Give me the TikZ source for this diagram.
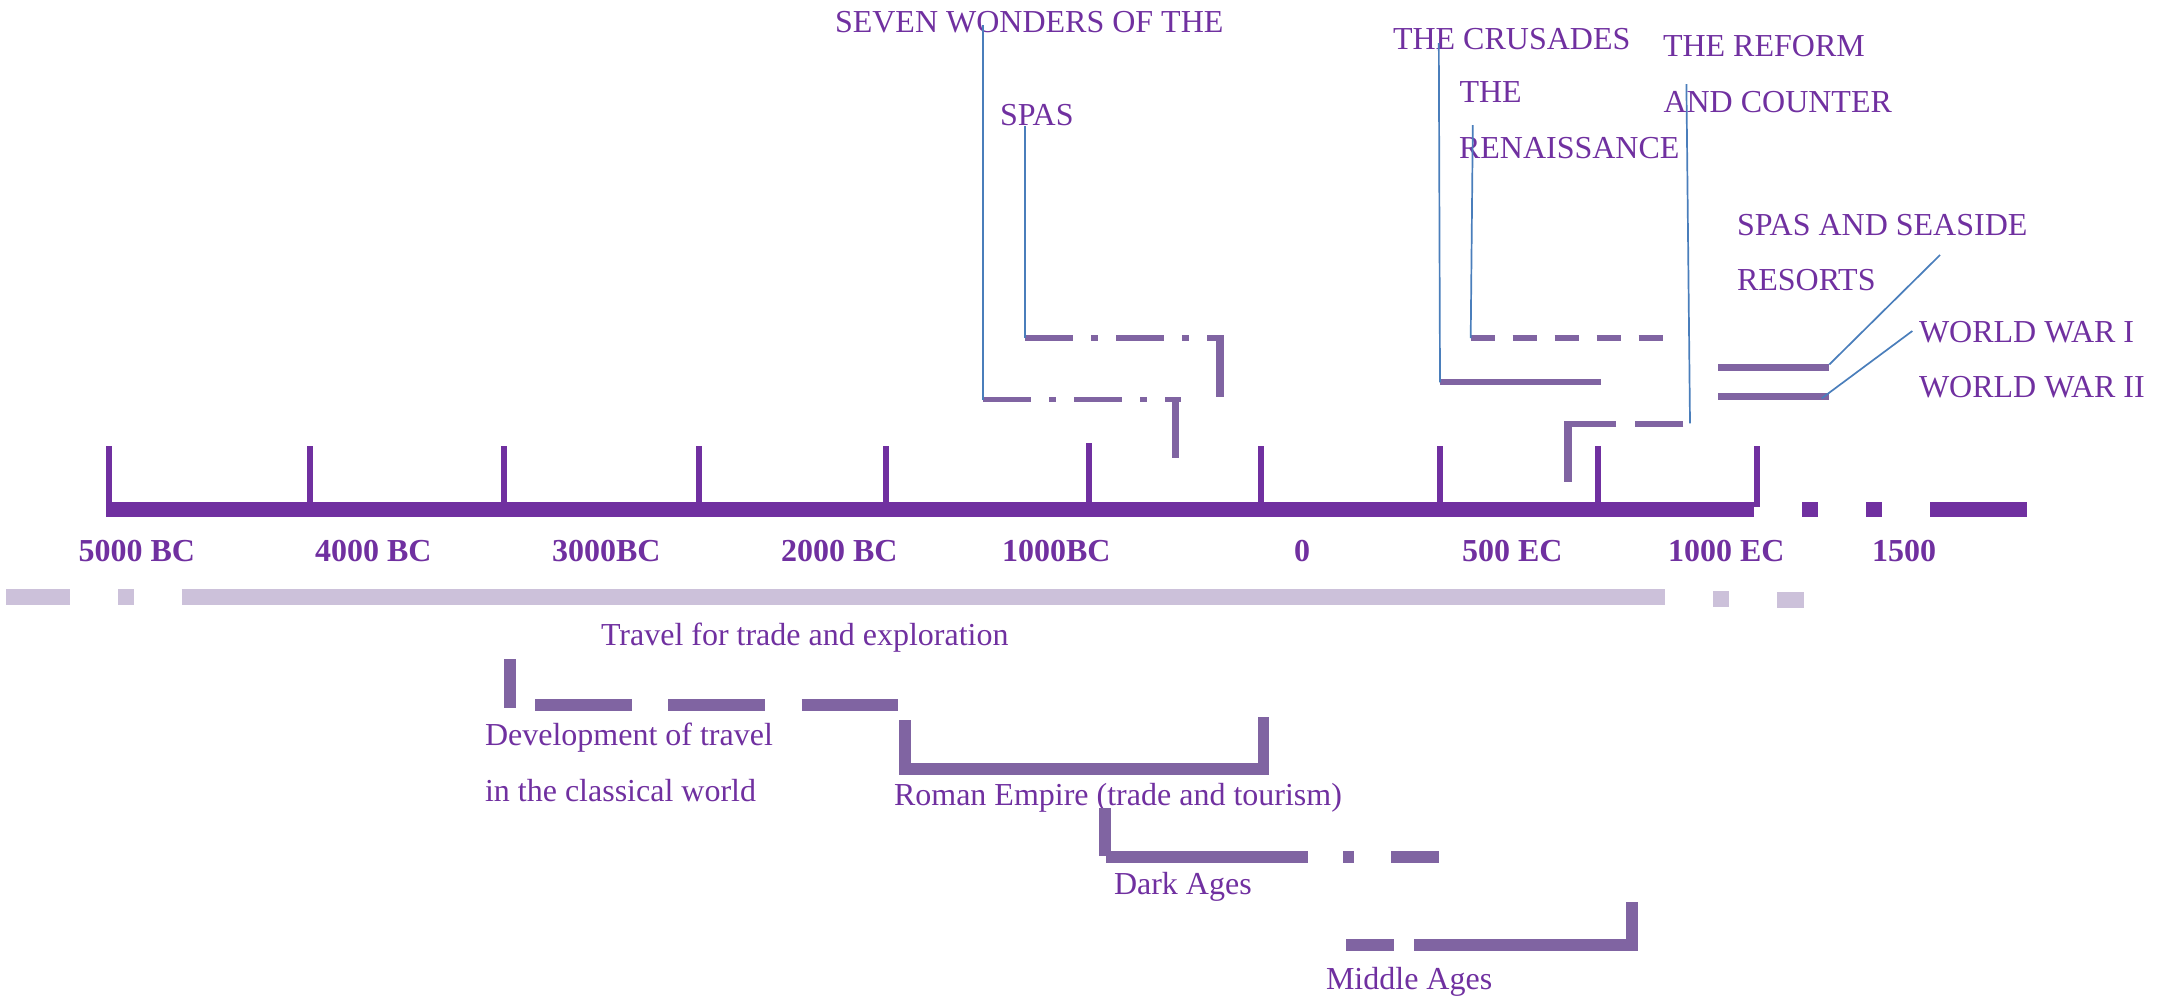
\documentclass[tikz,border=0pt]{standalone}
\usepackage{fontspec}
\setmainfont{Liberation Serif}
\definecolor{txtpurple}{HTML}{7030A0}
\definecolor{axispurple}{HTML}{7030A0}
\definecolor{barpurple}{HTML}{8064A2}
\definecolor{lavender}{HTML}{CCC1DA}
\definecolor{leaderblue}{HTML}{4A7EBB}
\begin{document}
\begin{tikzpicture}[x=0.5pt,y=-0.5pt,
  lbl/.style={anchor=base west,inner sep=0pt,outer sep=0pt,text=txtpurple,font=\fontsize{16}{19}\selectfont},
  yearlbl/.style={lbl,font=\fontsize{16}{19}\selectfont\bfseries},
  axisbar/.style={draw=axispurple,line width=7.8pt,line cap=butt},
  tick/.style={draw=axispurple,line width=3pt,line cap=butt},
  lavbar/.style={draw=lavender,line width=8pt,line cap=butt},
  ubar/.style={draw=barpurple,line width=2.85pt,line cap=butt,line join=miter},
  uvert/.style={draw=barpurple,line width=3.9pt,line cap=butt},
  lbar/.style={draw=barpurple,line width=5.85pt,line cap=butt,line join=miter},
  leader/.style={draw=leaderblue,line width=0.85pt},
  dashdotpat/.style={dash pattern=on 24pt off 9pt on 3.5pt off 9pt}
]
\useasboundingbox (0,0) rectangle (2167,998);

% ---------- main axis ----------
\coordinate (axL) at (106,509.5);
\coordinate (axR) at (2027,509.5);
\draw[axisbar,dash pattern=on 824pt off 24pt on 8pt off 24pt on 8pt off 24pt on 48.5pt] (axL) -- (axR);
\foreach \x/\t [count=\i] in {109/446,309.5/446,504/446,698.7/446,886/446,1088.8/443,1261.3/446,1439.5/446,1598.3/446,1756.7/446}{
  \coordinate (tk\i a) at (\x,\t);
  \coordinate (tk\i b) at (\x,507);
  \draw[tick] (tk\i a) -- (tk\i b);
}

% ---------- year labels ----------
\node[yearlbl] (y5000) at (78.6,561) {5000 BC};
\node[yearlbl] (y4000) at (315,561) {4000 BC};
\node[yearlbl] (y3000) at (552,561) {3000BC};
\node[yearlbl] (y2000) at (781,561) {2000 BC};
\node[yearlbl] (y1000) at (1002,561) {1000BC};
\node[yearlbl] (y0) at (1294,561) {0};
\node[yearlbl] (y500) at (1462,561) {500 EC};
\node[yearlbl] (y1000e) at (1668,561) {1000 EC};
\node[yearlbl] (y1500) at (1872,561) {1500};

% ---------- lavender bar ----------
\coordinate (lvL) at (6.3,597.3);
\coordinate (lvR) at (1664.7,597.3);
\draw[lavbar,dash pattern=on 31.85pt off 24pt on 8pt off 23.85pt on 741.5pt] (lvL) -- (lvR);
\coordinate (lq1a) at (1713,599); \coordinate (lq1b) at (1729,599);
\draw[lavbar] (lq1a) -- (lq1b);
\coordinate (lq2a) at (1777,599.7); \coordinate (lq2b) at (1803.7,599.7);
\draw[lavbar] (lq2a) -- (lq2b);

% ---------- upper labels ----------
\node[lbl] (seven) at (835,32.3) {SEVEN WONDERS OF THE};
\node[lbl] (spas) at (1000,125) {SPAS};
\node[lbl] (crus) at (1393,49.3) {THE CRUSADES};
\node[lbl] (ren1) at (1459.5,102.7) {THE};
\node[lbl] (ren2) at (1459,158.3) {RENAISSANCE};
\node[lbl] (ref1) at (1663,56.7) {THE REFORM};
\node[lbl] (ref2) at (1663.5,112.3) {AND COUNTER};
\node[lbl] (sea1) at (1737,235) {SPAS AND SEASIDE};
\node[lbl] (sea2) at (1737,290.7) {RESORTS};
\node[lbl] (ww1) at (1919,342.7) {WORLD WAR I};
\node[lbl] (ww2) at (1919,397.7) {WORLD WAR II};

% ---------- upper bars ----------
% Seven wonders bracket
\coordinate (swA) at (983,399.5);
\coordinate (swB) at (1181,399.5);
\draw[ubar,dashdotpat] (swA) -- (swB);
\coordinate (swV1) at (1175.5,397); \coordinate (swV2) at (1175.5,457.7);
\draw[uvert] (swV1) -- (swV2);
% Spas bracket
\coordinate (spA) at (1025,338);
\coordinate (spB) at (1224,338);
\draw[ubar,dashdotpat] (spA) -- (spB);
\coordinate (spV1) at (1220,335); \coordinate (spV2) at (1220,397);
\draw[uvert] (spV1) -- (spV2);
% Crusades
\coordinate (crA) at (1440,382.3);
\coordinate (crB) at (1601.4,382.3);
\draw[ubar] (crA) -- (crB);
% Renaissance
\coordinate (rnA) at (1470.7,338);
\coordinate (rnB) at (1664.6,338);
\draw[ubar,dash pattern=on 12pt off 9pt] (rnA) -- (rnB);
% Reformation
\coordinate (rfA) at (1683.3,424);
\coordinate (rfB) at (1568,424);
\draw[ubar,dash pattern=on 24.3pt off 9.35pt] (rfA) -- (rfB);
\coordinate (rfV1) at (1568,421.3); \coordinate (rfV2) at (1568,482);
\draw[uvert] (rfV1) -- (rfV2);
% Spas and seaside / world wars
\coordinate (ssA) at (1718.3,367.3); \coordinate (ssB) at (1829.3,367.3);
\draw[ubar,line width=3.3pt] (ssA) -- (ssB);
\coordinate (wwA) at (1718.3,396.7); \coordinate (wwB) at (1829.3,396.7);
\draw[ubar,line width=3.3pt] (wwA) -- (wwB);

% ---------- leaders ----------
\coordinate (swT) at (983,25);
\draw[leader] (swT) -- (swA);
\coordinate (spT) at (1025,126);
\draw[leader] (spT) -- (spA);
\coordinate (crT) at (1438.8,43);
\draw[leader] (crT) -- (crA);
\coordinate (rnT) at (1472.8,125);
\draw[leader] (rnT) -- (rnA);
\coordinate (rfT) at (1686.4,84);
\coordinate (rfE) at (1690,423.3);
\draw[leader] (rfT) -- (rfE);
\coordinate (ssT) at (1940,255);
\coordinate (ssE) at (1829.3,364.5);
\draw[leader] (ssT) -- (ssE);
\coordinate (wwT) at (1912.3,331);
\coordinate (wwE) at (1821.7,398.3);
\draw[leader] (wwT) -- (wwE);

% ---------- lower labels ----------
\node[lbl] (travel) at (601,645) {Travel for trade and exploration};
\node[lbl] (dev1) at (485,745) {Development of travel};
\node[lbl] (dev2) at (485,801) {in the classical world};
\node[lbl] (roman) at (894,805) {Roman Empire (trade and tourism)};
\node[lbl] (dark) at (1114,894.3) {Dark Ages};
\node[lbl] (middle) at (1326,989.3) {Middle Ages};

% ---------- lower bars ----------
% Development
\coordinate (dvV1) at (510,659.3); \coordinate (dvV2) at (510,707.7);
\draw[lbar,line width=5.7pt] (dvV1) -- (dvV2);
\coordinate (dvA) at (535,705); \coordinate (dvB) at (899,705);
\draw[lbar,dash pattern=on 48.35pt off 18.3pt] (dvA) -- (dvB);
% Roman
\coordinate (rmA) at (905.2,720);
\coordinate (rmB) at (905.2,769.2);
\coordinate (rmC) at (1263.5,769.2);
\coordinate (rmD) at (1263.5,717.3);
\draw[lbar] (rmA) -- (rmB) -- (rmC) -- (rmD);
% Dark ages
\coordinate (dkV1) at (1105.2,808.3); \coordinate (dkV2) at (1105.2,856);
\draw[lbar] (dkV1) -- (dkV2);
\coordinate (dkA) at (1106,857.2); \coordinate (dkB) at (1439,857.2);
\draw[lbar,dash pattern=on 100.75pt off 17.75pt on 5.5pt off 18.5pt on 24pt] (dkA) -- (dkB);
% Middle ages
\coordinate (mdA) at (1346,945); \coordinate (mdB) at (1394,945);
\draw[lbar] (mdA) -- (mdB);
\coordinate (mdC) at (1414,945);
\coordinate (mdD) at (1631.7,945);
\coordinate (mdE) at (1631.7,901.7);
\draw[lbar] (mdC) -- (mdD) -- (mdE);
\end{tikzpicture}
\end{document}
